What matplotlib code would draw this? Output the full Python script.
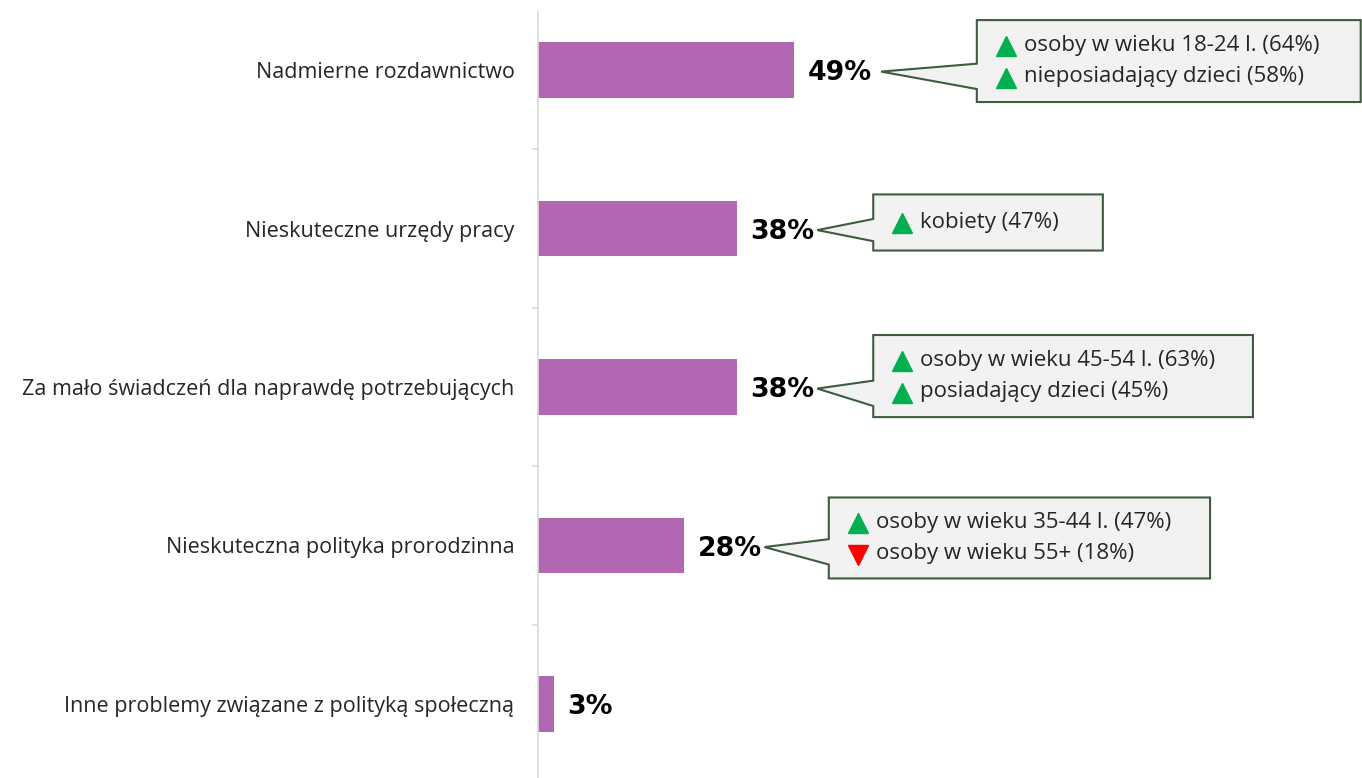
import matplotlib
matplotlib.use("Agg")
import numpy as np
from matplotlib import pyplot as plt
from matplotlib.patches import Polygon

# data
categories = [
    "Nadmierne rozdawnictwo",
    "Nieskuteczne urzędy pracy",
    "Za mało świadczeń dla naprawdę potrzebujących",
    "Nieskuteczna polityka prorodzinna",
    "Inne problemy związane z polityką społeczną",
]
values = [49, 38, 38, 28, 3]

notes = [
    [("up", "osoby w wieku 18-24 l. (64%)"), ("up", "nieposiadający dzieci (58%)")],
    [("up", "kobiety (47%)")],
    [("up", "osoby w wieku 45-54 l. (63%)"), ("up", "posiadający dzieci (45%)")],
    [("up", "osoby w wieku 35-44 l. (47%)"), ("down", "osoby w wieku 55+ (18%)")],
    [],
]

# callout layout: box left, box right, box top, box bottom (relative to row), tip x
boxes = [
    (83.9, 157.3, -0.315, 0.202, 65.6),
    (64.1, 108.0, -0.215, 0.139, 53.4),
    (64.1, 136.7, -0.328, 0.190, 53.4),
    (55.6, 128.5, -0.303, 0.208, 43.3),
]

FONT = ["Open Sans", "DejaVu Sans"]
plt.rcParams['font.family'] = FONT

fig = plt.figure(figsize=(13.62, 7.78), dpi=100)
ax = fig.add_axes([538 / 1362, 0, 824 / 1362, 766 / 778])

y = np.arange(len(categories))
ax.barh(y, values, height=0.35, color='#B267B3')

ax.set_xlim(0, 157.55)
ax.set_ylim(4.467, -0.366)

for s in ['top', 'right', 'bottom']:
    ax.spines[s].set_visible(False)
ax.spines['left'].set_color('#D9D9D9')
ax.spines['left'].set_linewidth(1.2)
ax.set_xticks([])
ax.set_yticks(y)
ax.set_yticklabels(categories, fontsize=15.5, color='#262626')
ax.tick_params(axis='y', which='major', length=0, pad=17)
ax.set_yticks(y[:-1] + 0.5, minor=True)
ax.tick_params(axis='y', which='minor', length=4, color='#D9D9D9', width=1.2)

for i, v in enumerate(values):
    ax.text(v + 2.6, i + 0.02, f"{v}%", fontsize=19.3, fontweight='bold',
            family='DejaVu Sans', va='center', ha='left', color='black')

for i, (b, items) in enumerate(zip(boxes, notes)):
    x0, x1, t, btm, tip = b
    y0, y1 = i + t, i + btm
    n = len(items)
    base_top, base_bot = i - 0.04, i + 0.12
    if n == 1:
        base_top, base_bot = i - 0.06, i + 0.08
    poly = Polygon([(x0, y0), (x1, y0), (x1, y1), (x0, y1), (x0, base_bot),
                    (tip, i + 0.01), (x0, base_top)], closed=True,
                   facecolor='#F2F2F2', edgecolor='#3E5C3E', linewidth=1.5,
                   clip_on=False, zorder=3)
    ax.add_patch(poly)
    mid = (y0 + y1) / 2
    offs = [0.0] if n == 1 else [-0.1, 0.1]
    for (d, txt), o in zip(items, offs):
        ax.plot(x0 + 5.5, mid + o + 0.005, marker='^' if d == 'up' else 'v',
                markersize=14.5, color='#00B050' if d == 'up' else '#FF0000',
                linestyle='none', clip_on=False, zorder=4)
        ax.text(x0 + 9.0, mid + o, txt, fontsize=16, color='#262626',
                va='center', ha='left', zorder=4)

fig.savefig("out.png", dpi=100)
